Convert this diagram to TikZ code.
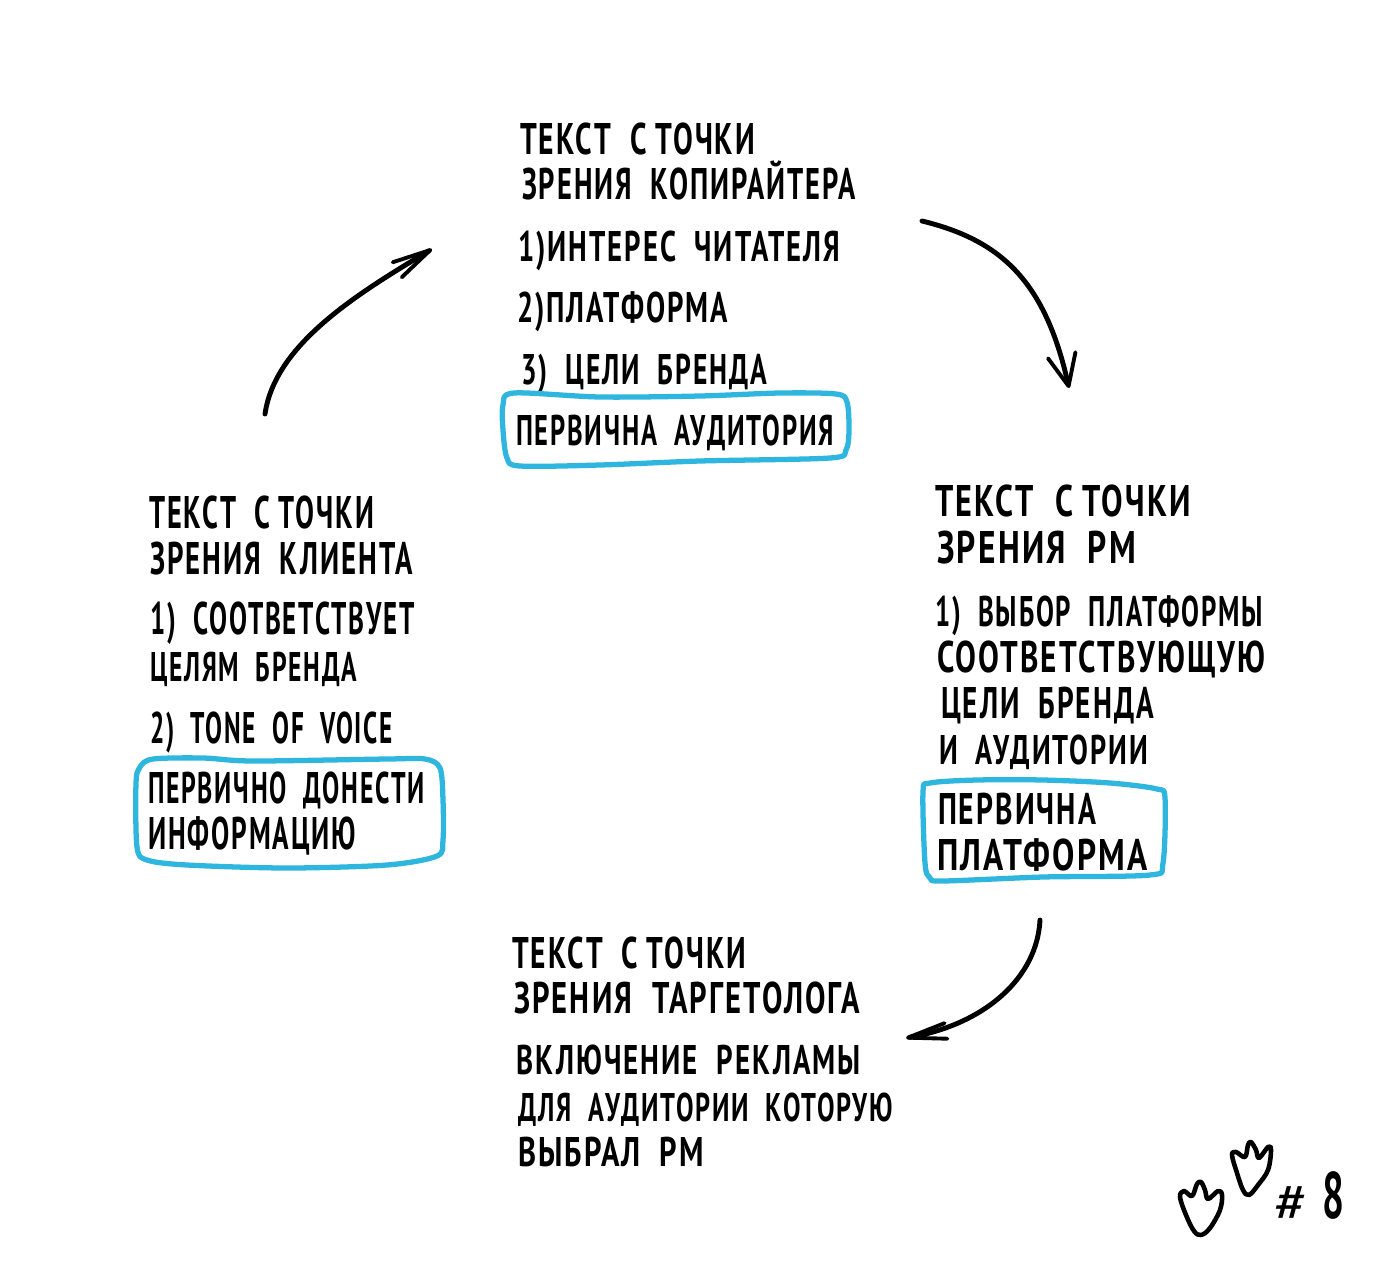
\documentclass[tikz,border=0pt]{standalone}
\usepackage{graphicx}
\usepackage{fontspec}
\setmainfont[LetterSpace=7,WordSpace=2]{PT Sans}
\usetikzlibrary{arrows.meta}

\newlength{\pxu}
\setlength{\pxu}{0.02cm}
% one handwritten line, squeezed to its width and cap height in px
\newcommand{\fitline}[3][31]{\resizebox{#2\pxu}{#1\pxu}{\rule{0pt}{\fontcharht\font`H}\smash{#3}}}
% the narrow gap after the single letter
\newcommand{\narrowgap}{\hspace{-0.35em}}

\definecolor{markerblue}{HTML}{2FB6DE}

\tikzset{
  handline/.style={anchor=base west,inner sep=0pt,outer sep=0pt,font=\bfseries},
  flow/.style 2 args={line width=2.8pt,line cap=round,-{Straight Barb[round,length=#1,width=#2,line width=2.2pt]}},
  markerbox/.style={line width=3pt,markerblue,line join=round},
  foot/.style={line width=2.6pt,line join=round}
}

\begin{document}
\begin{tikzpicture}[x=0.02cm,y=-0.02cm]
    \useasboundingbox (0,0) rectangle (1400,1275);

    % Copywriter block
    \node[handline] (cwA) at (520,154) {\fitline{235}{ТЕКСТ С\narrowgap{} ТОЧКИ}};
    \node[handline] (cwB) at (522,199) {\fitline{334}{ЗРЕНИЯ КОПИРАЙТЕРА}};
    \node[handline] (cwC) at (518,261) {\fitline[30]{322}{1)ИНТЕРЕС ЧИТАТЕЛЯ}};
    \node[handline] (cwD) at (517,322) {\fitline[30]{211}{2)ПЛАТФОРМА}};
    \node[handline] (cwE) at (521,384) {\fitline[30]{246}{3) ЦЕЛИ БРЕНДА}};
    \node[handline] (cwF) at (516,445) {\fitline[30]{318}{ПЕРВИЧНА АУДИТОРИЯ}};

    % PM block
    \node[handline] (pmA) at (935,516) {\fitline{256}{ТЕКСТ С\narrowgap{} ТОЧКИ}};
    \node[handline] (pmB) at (937,563) {\fitline[32]{199}{ЗРЕНИЯ РМ}};
    \node[handline] (pmC) at (935,626) {\fitline[30]{328}{1) ВЫБОР ПЛАТФОРМЫ}};
    \node[handline] (pmD) at (937,672) {\fitline{328}{СООТВЕТСТВУЮЩУЮ}};
    \node[handline] (pmE) at (941,718) {\fitline{213}{ЦЕЛИ БРЕНДА}};
    \node[handline] (pmF) at (939,764) {\fitline[29]{209}{И АУДИТОРИИ}};
    \node[handline] (pmG) at (938,824) {\fitline{158}{ПЕРВИЧНА}};
    \node[handline] (pmH) at (937,870) {\fitline{211}{ПЛАТФОРМА}};

    % Targeting block
    \node[handline] (tgA) at (512,968) {\fitline{234}{ТЕКСТ С\narrowgap{} ТОЧКИ}};
    \node[handline] (tgB) at (514,1013) {\fitline{346}{ЗРЕНИЯ ТАРГЕТОЛОГА}};
    \node[handline] (tgC) at (516,1074) {\fitline[29]{345}{ВКЛЮЧЕНИЕ РЕКЛАМЫ}};
    \node[handline] (tgD) at (518,1121) {\fitline[28]{375}{ДЛЯ АУДИТОРИИ КОТОРУЮ}};
    \node[handline] (tgE) at (518,1166) {\fitline[29]{186}{ВЫБРАЛ РМ}};

    % Client block
    \node[handline] (clA) at (149,528) {\fitline[32]{225}{ТЕКСТ С\narrowgap{} ТОЧКИ}};
    \node[handline] (clB) at (150,574) {\fitline[32]{263}{ЗРЕНИЯ КЛИЕНТА}};
    \node[handline] (clC) at (150,634) {\fitline[32]{265}{1) СООТВЕТСТВУЕТ}};
    \node[handline] (clD) at (150,681) {\fitline[29]{207}{ЦЕЛЯМ БРЕНДА}};
    \node[handline] (clE) at (150,743) {\fitline{243}{2) TONE OF VOICE}};
    \node[handline] (clF) at (148,803) {\fitline{277}{ПЕРВИЧНО ДОНЕСТИ}};
    \node[handline] (clG) at (148,849) {\fitline[32]{208}{ИНФОРМАЦИЮ}};

    % Marker boxes
    \draw[markerbox] plot[smooth cycle,tension=0.5] coordinates {(514,393) (600,397) (700,396) (780,393) (836,394) (847,402) (849,430) (846,450) (830,458) (700,461) (600,465) (520,466) (507,458) (503,430) (503,405)};
    \draw[markerbox] plot[smooth cycle,tension=0.5] coordinates {(153,759) (203,758) (253,761) (387,759) (425,759) (440,768) (443,800) (443,840) (437,856) (387,865) (287,868) (187,865) (147,860) (137,847) (136,783) (140,767)};
    \draw[markerbox] plot[smooth cycle,tension=0.5] coordinates {(930,783) (977,780) (1043,780) (1110,783) (1157,789) (1165,798) (1163,863) (1150,875) (1043,877) (943,881) (930,878) (925,863) (923,792)};

    % Arrows between blocks
    \coordinate (cwOut) at (922,221);
    \coordinate (pmIn) at (1069,388);
    \coordinate (pmOut) at (1040,920);
    \coordinate (tgIn) at (906,1038);
    \coordinate (clOut) at (265,414);
    \coordinate (cwIn) at (432,249);
    \draw[flow={18pt}{16pt}] (cwOut) .. controls (1000,240) and (1045,280) .. (pmIn);
    \draw[flow={22pt}{9pt}] (pmOut) .. controls (1037,978) and (985,1024) .. (tgIn);
    \draw[flow={22pt}{10pt}] (clOut) .. controls (275,345) and (355,295) .. (cwIn);

    % Footprints and number
    \draw[foot] plot[smooth cycle,tension=0.6] coordinates {(1180,1197) (1184,1191) (1192,1196) (1197,1184) (1201,1182) (1205,1190) (1208,1199) (1218,1191) (1222,1195) (1220,1210) (1210,1228) (1201,1235) (1194,1231) (1186,1215)};
    \draw[foot] plot[smooth cycle,tension=0.6] coordinates {(1232,1155) (1236,1152) (1245,1157) (1248,1145) (1251,1142) (1256,1150) (1259,1158) (1268,1147) (1271,1150) (1268,1170) (1258,1185) (1249,1195) (1243,1190) (1237,1173)};
    \node[handline,font=\normalfont] (hash) at (1274,1221) {\fitline[38]{34}{\#}};
    \node[handline] (num) at (1322,1218) {\fitline[46]{22}{8}};
\end{tikzpicture}
\end{document}
